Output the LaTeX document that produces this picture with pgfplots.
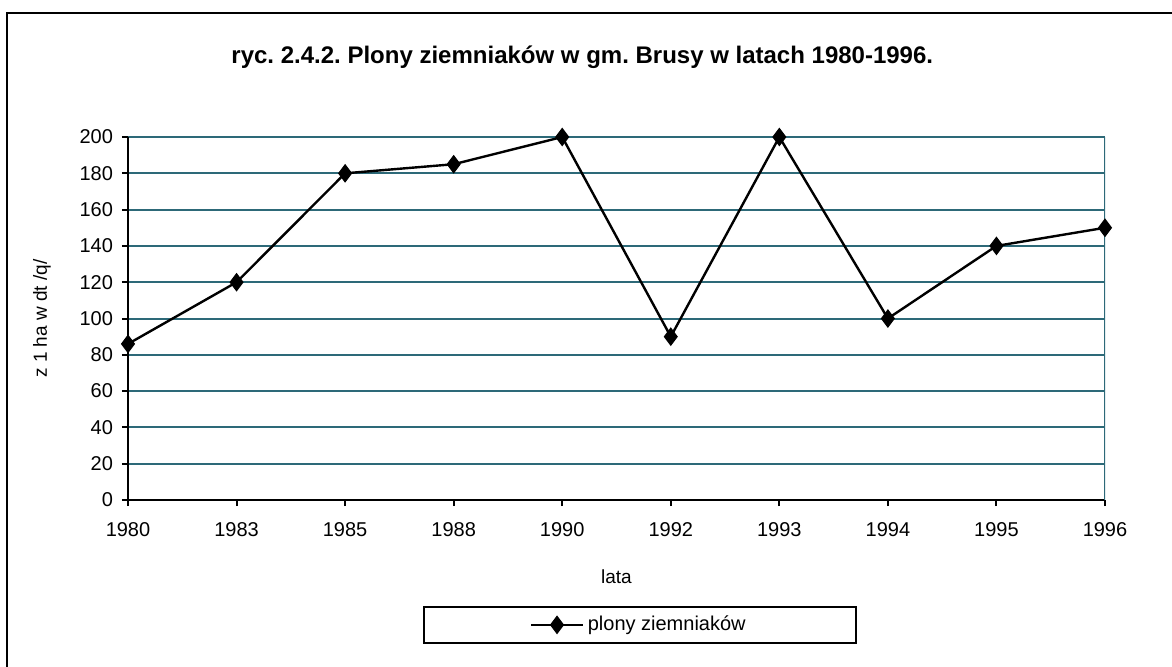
\documentclass[border=0pt]{standalone}
\usepackage{pgfplots}
\pgfplotsset{compat=1.18}
\usepackage{fontspec}
\setmainfont{Liberation Sans}
\frenchspacing
\definecolor{gridteal}{RGB}{45,105,120}
\begin{document}
\begin{tikzpicture}
\useasboundingbox (0,0) rectangle (586pt,333pt);
\draw[line width=1.1pt] (3.5pt,-10pt) rectangle (600pt,326.5pt);
\begin{axis}[
    at={(64pt,83pt)}, anchor=south west,
    width=488.5pt, height=181.5pt, scale only axis,
    xmin=0, xmax=9, ymin=0, ymax=200,
    axis x line*=bottom, axis y line*=left,
    axis line style={line width=1.2pt, black, -},
    xtick={0,...,9},
    xticklabels={1980,1983,1985,1988,1990,1992,1993,1994,1995,1996},
    ytick={0,20,...,200},
    tick align=outside, major tick length=3pt,
    tick style={black, line width=1pt},
    ymajorgrids, major grid style={gridteal, line width=1pt},
    tick label style={font=\fontsize{10}{12}\selectfont},
    xticklabel style={yshift=-4.5pt},
    yticklabel style={xshift=-1pt},
    /pgf/number format/assume math mode=true,
    every axis title shift=0pt,
    title={ryc. 2.4.2. Plony ziemniaków w gm. Brusy w latach 1980-1996.},
    title style={at={(axis description cs:0.465,1.22)}, anchor=center, font=\bfseries\fontsize{12}{14}\selectfont},
    xlabel={lata},
    xlabel style={at={(axis description cs:0.5,-0.212)}, anchor=center, font=\fontsize{9.5}{11}\selectfont},
    ylabel={z 1 ha w dt /q/},
    ylabel style={at={(axis description cs:-0.088,0.5)}, anchor=center, font=\fontsize{9.5}{11}\selectfont},
    legend style={at={(axis description cs:0.524,-0.344)}, anchor=center, draw=black, line width=1pt,
        inner xsep=53pt, inner ysep=2.5pt, font=\fontsize{10}{12}\selectfont},
    legend image code/.code={\draw[mark repeat=2,mark phase=2] plot coordinates {(0cm,0cm)(0.45cm,0cm)(0.9cm,0cm)};},
]
\draw[gridteal, line width=1pt] (rel axis cs:1,0) -- (rel axis cs:1,1);
\addplot[black, line width=1.2pt, mark=diamond*, mark size=4.3pt, mark options={solid, fill=black, line width=0.5pt}]
    coordinates {(0,86) (1,120) (2,180) (3,185) (4,200) (5,90) (6,200) (7,100) (8,140) (9,150)};
\addlegendentry{plony ziemniaków}
\end{axis}
\end{tikzpicture}
\end{document}
